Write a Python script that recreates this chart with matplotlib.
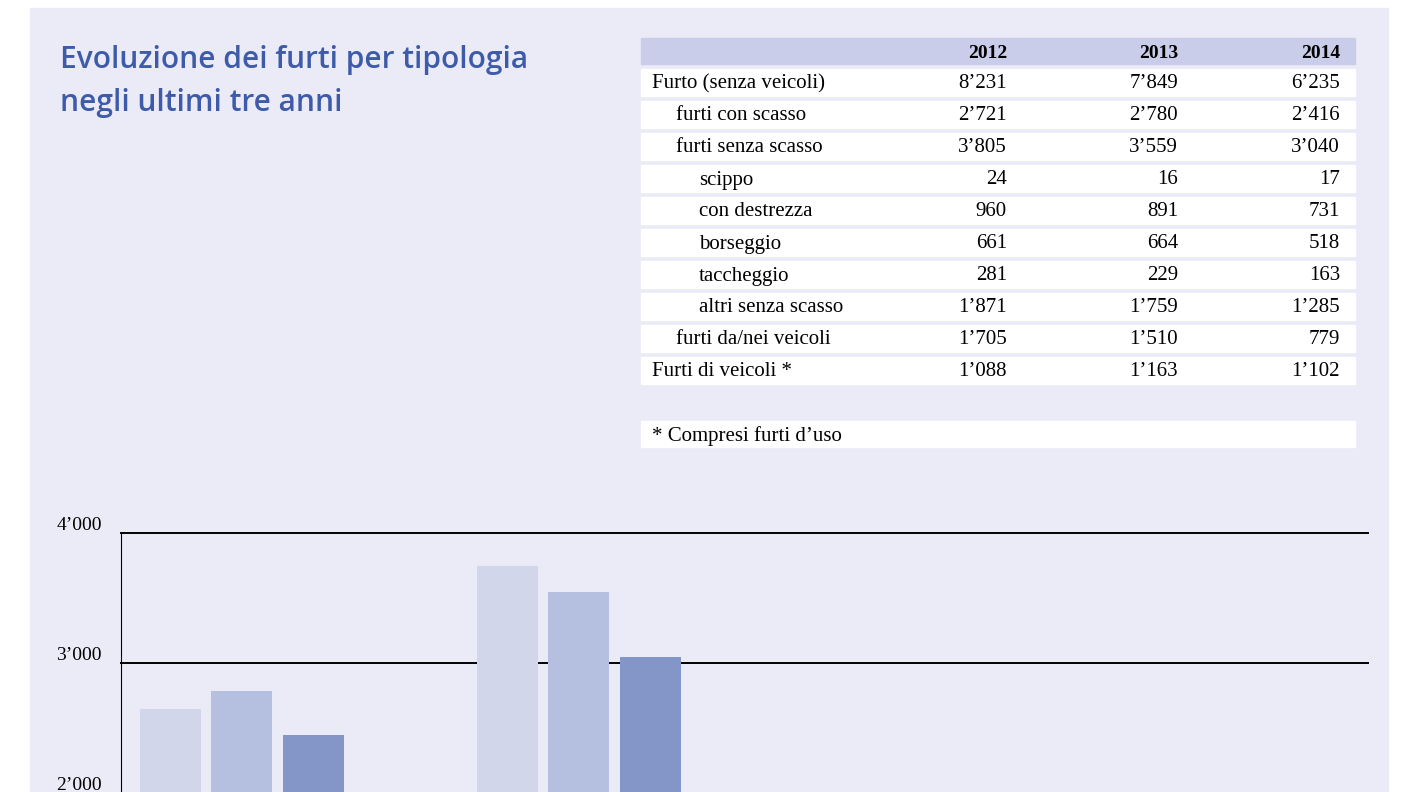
import matplotlib
matplotlib.use("Agg")
import matplotlib.pyplot as plt
from matplotlib.patches import Rectangle

years = ["2012", "2013", "2014"]
rows = ["Furto (senza veicoli)", "furti con scasso", "furti senza scasso", "scippo",
        "con destrezza", "borseggio", "taccheggio", "altri senza scasso",
        "furti da/nei veicoli", "Furti di veicoli *"]
indent = [0, 1, 1, 2, 2, 2, 2, 2, 1, 0]
v2012 = ["8’231", "2’721", "3’805", "24", "960", "661", "281", "1’871", "1’705", "1’088"]
v2013 = ["7’849", "2’780", "3’559", "16", "891", "664", "229", "1’759", "1’510", "1’163"]
v2014 = ["6’235", "2’416", "3’040", "17", "731", "518", "163", "1’285", "779", "1’102"]

bar_cats = ["furti con scasso", "furti senza scasso"]
bar2012 = [2650, 3745]
bar2013 = [2785, 3545]
bar2014 = [2445, 3045]
yticks = [2000, 3000, 4000]
ytick_labels = ["2’000", "3’000", "4’000"]

W, H = 1408, 792
fig = plt.figure(figsize=(W/100, H/100), dpi=100)
fig.patch.set_facecolor("white")
bg = fig.add_axes([0, 0, 1, 1])
bg.set_xlim(0, W); bg.set_ylim(H, 0); bg.axis("off")
bg.add_patch(Rectangle((30, 8), 1358, 800, color="#ebebf8", zorder=0))

serif = "Liberation Serif"
for yy, line in [(60, "Evoluzione dei furti per tipologia"), (103, "negli ultimi tre anni")]:
    bg.text(60, yy, line, color="#3d5ba9", fontsize=21.5, fontfamily="Open Sans",
            fontweight="semibold", va="center")

# table
bg.add_patch(Rectangle((641, 38), 714, 26, color="#c9cde9", zorder=1))
colx = [1007, 1178, 1340]
for x, y in zip(colx, years):
    bg.text(x, 53, y, ha="right", va="center", fontsize=14, fontweight="bold", fontfamily=serif)
for i, (r, ind) in enumerate(zip(rows, indent)):
    yc = 82 + 32 * i
    bg.add_patch(Rectangle((641, yc - 13), 714, 27, color="white", zorder=1))
    bg.text(652 + 23.5 * ind, yc + 2, r, va="center", fontsize=15, fontfamily=serif, zorder=2)
    for x, v in zip(colx, (v2012[i], v2013[i], v2014[i])):
        bg.text(x, yc + 2, v, ha="right", va="center", fontsize=15, fontfamily=serif, zorder=2)
bg.add_patch(Rectangle((641, 421), 714, 26, color="white", zorder=1))
bg.text(652, 436, "* Compresi furti d’uso", va="center", fontsize=15, fontfamily=serif, zorder=2)

# bar chart: 4000 at y=533, 3000 at y=663
ax_top = 533
ppu = 130 / 1000
ymin = 4000 - (H - ax_top) / ppu
ax = fig.add_axes([121 / W, 0, (1368 - 121) / W, (H - ax_top) / H])
ax.set_facecolor("none")
ax.set_ylim(ymin, 4000)
ax.set_xlim(0, 1247)
for s in ["top", "right", "bottom"]:
    ax.spines[s].set_visible(False)
ax.spines["left"].set_color("black")
ax.set_xticks([])
ax.set_yticks([])
for t in yticks:
    ax.axhline(t, color="black", lw=1.4, zorder=1, clip_on=False)
for t, l in zip(yticks, ytick_labels):
    ax.text(-19, t + 55, l, ha="right", va="center", fontsize=14, fontfamily=serif, clip_on=False)
cols = ["#d1d6ea", "#b5bfe0", "#8496c8"]
offs = [19, 90, 162]
for g in range(len(bar_cats)):
    base = g * 337
    for vals, c, o in zip((bar2012, bar2013, bar2014), cols, offs):
        ax.bar(base + o, vals[g] - ymin, bottom=ymin, width=61, align="edge", color=c, zorder=2)

fig.savefig("out.png", dpi=100)
